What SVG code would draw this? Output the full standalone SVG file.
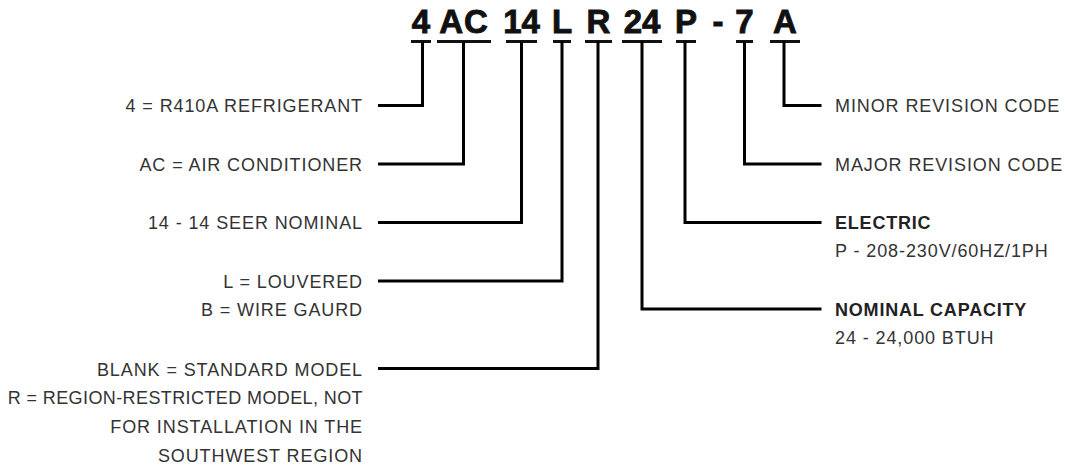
<svg xmlns="http://www.w3.org/2000/svg" width="1065" height="470" viewBox="0 0 1065 470">
  <style>
    .code { font-family: "Liberation Sans", Arial, sans-serif; font-weight: bold; font-size: 33px; fill: #111; stroke: #111; stroke-width: 0.9; text-anchor: middle; }
    .bar { stroke: #111; stroke-width: 3; fill: none; }
    .lbl { font-family: "Liberation Sans", Arial, sans-serif; font-size: 18px; fill: #333; letter-spacing: 0.9px; }
    .l { text-anchor: end; }
    .b { font-weight: bold; fill: #222; letter-spacing: 0.8px; }
    .conn { stroke: #000; stroke-width: 3; fill: none; stroke-linejoin: miter; stroke-linecap: butt; }
  </style>
  <rect width="1065" height="470" fill="#fff"/>

  <g id="code-4"><text class="code" x="421" y="33">4</text><line class="bar" x1="411" y1="41.5" x2="431" y2="41.5"/></g>
  <g id="code-AC"><text class="code" x="464" y="33" letter-spacing="1">AC</text><line class="bar" x1="437" y1="41.5" x2="491" y2="41.5"/></g>
  <g id="code-14"><text class="code" x="521.5" y="33">14</text><line class="bar" x1="506" y1="41.5" x2="537" y2="41.5"/></g>
  <g id="code-L"><text class="code" x="562" y="33">L</text><line class="bar" x1="553" y1="41.5" x2="571" y2="41.5"/></g>
  <g id="code-R"><text class="code" x="598.5" y="33">R</text><line class="bar" x1="585" y1="41.5" x2="612" y2="41.5"/></g>
  <g id="code-24"><text class="code" x="642" y="33">24</text><line class="bar" x1="622" y1="41.5" x2="662" y2="41.5"/></g>
  <g id="code-P"><text class="code" x="686" y="33">P</text><line class="bar" x1="676" y1="41.5" x2="696" y2="41.5"/></g>
  <g id="code-dash"><text class="code" x="718" y="33">-</text></g>
  <g id="code-7"><text class="code" x="744.5" y="33">7</text><line class="bar" x1="736" y1="41.5" x2="753" y2="41.5"/></g>
  <g id="code-A"><text class="code" x="785" y="33">A</text><line class="bar" x1="770" y1="41.5" x2="800" y2="41.5"/></g>

  <g id="connectors">
    <path class="conn" d="M378,105.5 H422.5 V41.5"/>
    <path class="conn" d="M378,164 H463.5 V41.5"/>
    <path class="conn" d="M378,222.5 H521.5 V41.5"/>
    <path class="conn" d="M378,281 H562 V41.5"/>
    <path class="conn" d="M378,368.5 H598 V41.5"/>
    <path class="conn" d="M642,41.5 V309 H821.5"/>
    <path class="conn" d="M685,41.5 V222.5 H821.5"/>
    <path class="conn" d="M744.5,41.5 V164 H821.5"/>
    <path class="conn" d="M784,41.5 V105.5 H821.5"/>
  </g>

  <g id="label-refrigerant"><text class="lbl l" x="363" y="112">4 = R410A REFRIGERANT</text></g>
  <g id="label-type"><text class="lbl l" x="363" y="170.5">AC = AIR CONDITIONER</text></g>
  <g id="label-seer"><text class="lbl l" x="363" y="229">14 - 14 SEER NOMINAL</text></g>
  <g id="label-coil">
    <text class="lbl l" x="363" y="287.5">L = LOUVERED</text>
    <text class="lbl l" x="363" y="315.5">B = WIRE GAURD</text>
  </g>
  <g id="label-region">
    <text class="lbl l" x="363" y="375.5">BLANK = STANDARD MODEL</text>
    <text class="lbl l" x="363" y="404.3" style="letter-spacing:0.4px">R = REGION-RESTRICTED MODEL, NOT</text>
    <text class="lbl l" x="363" y="433">FOR INSTALLATION IN THE</text>
    <text class="lbl l" x="363" y="461.7">SOUTHWEST REGION</text>
  </g>
  <g id="label-minor"><text class="lbl" x="835" y="112">MINOR REVISION CODE</text></g>
  <g id="label-major"><text class="lbl" x="835" y="170.5">MAJOR REVISION CODE</text></g>
  <g id="label-electric">
    <text class="lbl b" x="835" y="229">ELECTRIC</text>
    <text class="lbl" x="835" y="257">P - 208-230V/60HZ/1PH</text>
  </g>
  <g id="label-capacity">
    <text class="lbl b" x="835" y="315.5">NOMINAL CAPACITY</text>
    <text class="lbl" x="835" y="343.5">24 - 24,000 BTUH</text>
  </g>
</svg>
